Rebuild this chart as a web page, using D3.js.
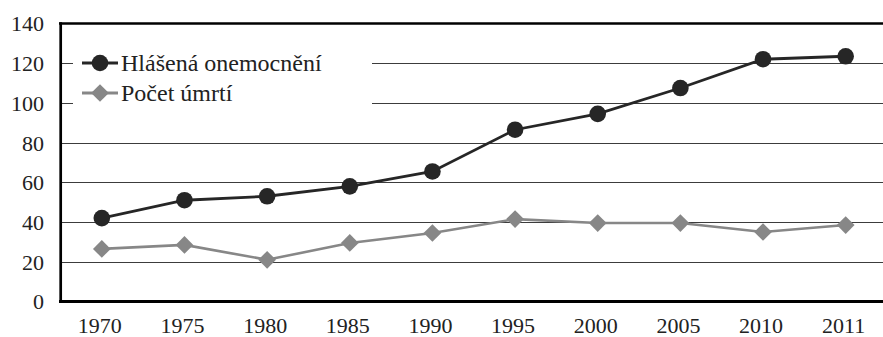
<!DOCTYPE html>
<html><head><meta charset="utf-8">
<script src="https://cdn.jsdelivr.net/npm/d3@7"></script>
<style>html,body{margin:0;padding:0;background:#fff;}svg{display:block;}
text{font-family:"Liberation Serif","Times New Roman",Times,"DejaVu Serif",serif;}</style>
</head><body>
<script>
const years = ["1970","1975","1980","1985","1990","1995","2000","2005","2010","2011"];
const reported = [42, 51, 53, 58, 65.5, 86.5, 94.5, 107.5, 122, 123.5];
const deaths = [26.5, 28.5, 21, 29.5, 34.5, 41.5, 39.5, 39.5, 35, 38.5];
const yTicks = [0, 20, 40, 60, 80, 100, 120, 140];
const seriesNames = ["Hlášená onemocnění", "Počet úmrtí"];

const W = 883, H = 337;
const svg = d3.select("body").append("svg").attr("width", W).attr("height", H);
const x = d3.scaleBand().domain(years).range([60.5, 887]);
const y = d3.scaleLinear().domain([0, 140]).range([301.5, 23.5]);
const cx = d => x(d) + x.bandwidth() / 2;

// gridlines
svg.append("g").selectAll("line").data(yTicks.filter(t => t > 0 && t < 140)).join("line")
  .attr("x1", 61).attr("x2", W).attr("y1", d => Math.round(y(d)) + 0.5).attr("y2", d => Math.round(y(d)) + 0.5)
  .attr("stroke", "#3c3c3c").attr("stroke-width", 1.2);

// top line
svg.append("line").attr("x1", 59).attr("x2", W).attr("y1", y(140)).attr("y2", y(140))
  .attr("stroke", "#000").attr("stroke-width", 2.6);
// bottom axis
svg.append("line").attr("x1", 59).attr("x2", W).attr("y1", y(0)).attr("y2", y(0))
  .attr("stroke", "#000").attr("stroke-width", 2.8);
// left axis
svg.append("line").attr("x1", 60.7).attr("x2", 60.7).attr("y1", y(140) - 1.3).attr("y2", y(0) + 1.4)
  .attr("stroke", "#000").attr("stroke-width", 2.7);

// y labels
svg.append("g").selectAll("text").data(yTicks).join("text")
  .attr("x", 44).attr("y", d => y(d)).attr("dy", "0.36em").attr("text-anchor", "end")
  .attr("font-size", 22).attr("fill", "#222").text(d => d);
// x labels
svg.append("g").selectAll("text").data(years).join("text")
  .attr("x", d => cx(d) - 2).attr("y", 333).attr("text-anchor", "middle")
  .attr("font-size", 22).attr("fill", "#222").text(d => d);

// series
const line = d3.line().x((d, i) => cx(years[i])).y(d => y(d));
svg.append("path").datum(deaths).attr("d", line).attr("fill", "none")
  .attr("stroke", "#878787").attr("stroke-width", 2.6);
svg.append("g").selectAll("path").data(deaths).join("path")
  .attr("d", d3.symbol().type(d3.symbolDiamond2).size(200))
  .attr("transform", (d, i) => `translate(${cx(years[i])},${y(d)})`)
  .attr("fill", "#878787");
svg.append("path").datum(reported).attr("d", line).attr("fill", "none")
  .attr("stroke", "#262626").attr("stroke-width", 2.8);
svg.append("g").selectAll("circle").data(reported).join("circle")
  .attr("cx", (d, i) => cx(years[i])).attr("cy", d => y(d)).attr("r", 8.3)
  .attr("fill", "#262626");

// legend
const lg = svg.append("g");
lg.append("rect").attr("x", 73).attr("y", 44).attr("width", 299).attr("height", 72).attr("fill", "#fff");
const rows = [{name: seriesNames[0], cy: 63, color: "#262626", sym: "circle"},
              {name: seriesNames[1], cy: 93, color: "#878787", sym: "diamond"}];
rows.forEach(r => {
  lg.append("line").attr("x1", 82).attr("x2", 118).attr("y1", r.cy).attr("y2", r.cy)
    .attr("stroke", r.color).attr("stroke-width", 2.8);
  if (r.sym === "circle") {
    lg.append("circle").attr("cx", 100).attr("cy", r.cy).attr("r", 8.3).attr("fill", r.color);
  } else {
    lg.append("path").attr("d", d3.symbol().type(d3.symbolDiamond2).size(200))
      .attr("transform", `translate(100,${r.cy})`).attr("fill", r.color);
  }
  lg.append("text").attr("x", 121).attr("y", r.cy).attr("dy", "0.33em")
    .attr("font-size", 24).attr("fill", "#222").text(r.name);
});
</script>
</body></html>
